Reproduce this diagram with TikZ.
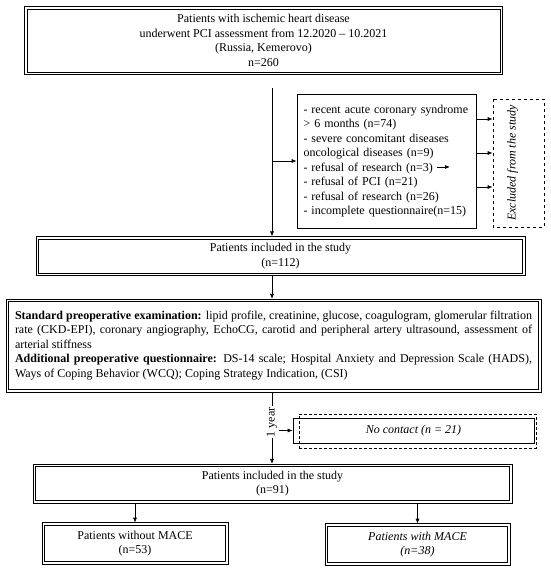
\documentclass[tikz,border=0pt]{standalone}
\usepackage{fontspec}
\setmainfont{Liberation Serif}
\usetikzlibrary{arrows.meta}

\tikzset{
  dbox/.style={draw, line width=0.7pt, align=center, inner sep=0pt,
    append after command={\pgfextra{\draw[line width=0.7pt]
      ([shift={(-2.2pt,2.2pt)}]\tikzlastnode.north west) rectangle
      ([shift={(2.2pt,-2.2pt)}]\tikzlastnode.south east);}}},
  sbox/.style={draw, line width=0.7pt, inner sep=0pt},
  dashbox/.style={draw, dashed, line width=0.7pt, inner sep=0pt},
  arr/.style={-{Latex[length=5pt,width=4pt]}, line width=0.7pt},
}

\begin{document}
\begin{tikzpicture}[x=1pt, y=-1pt, font=\fontsize{12pt}{14.5pt}\selectfont]

\useasboundingbox (0,0) rectangle (550,572);

% Top box
\node[dbox, minimum width=473, minimum height=63] (top) at (263.5,40.5)
  {Patients with ischemic heart disease\\
   underwent PCI assessment from 12.2020 -- 10.2021\\
   (Russia, Kemerovo)\\
   n=260};

% Exclusions
\node[sbox, minimum width=179, minimum height=134, text width=166, align=left] (excl) at (386.5,161)
  {\hyphenpenalty=10000
   - recent acute coronary syndrome\\
   > 6 months (n=74)\\
   \makebox[166pt][s]{- severe concomitant diseases}\\
   oncological diseases (n=9)\\
   - refusal of research (n=3)\\
   - refusal of PCI (n=21)\\
   - refusal of research (n=26)\\
   - incomplete questionnaire(n=15)};
\node[dashbox, rotate=90, minimum width=128, minimum height=51, text depth=14pt,
  font=\fontsize{12pt}{14.5pt}\selectfont\itshape] (exbox) at (518.5,163)
  {Excluded from the study};

% Included
\node[dbox, minimum width=484, minimum height=34] (inc1) at (280.5,256)
  {Patients included in the study\\(n=112)};

% Examination
\node[dbox, minimum width=530, minimum height=88, text width=517, align=justify] (std) at (273.5,345.5)
  {\hyphenpenalty=10000
   \textbf{Standard preoperative examination:} lipid profile, creatinine, glucose, coagulogram, glomerular filtration\linebreak
   rate (CKD-EPI), coronary angiography, EchoCG, carotid and peripheral artery ultrasound, assessment of\linebreak
   arterial stiffness\par
   \textbf{Additional preoperative questionnaire:} DS-14 scale; Hospital Anxiety and Depression Scale (HADS),\linebreak
   Ways of Coping Behavior (WCQ); Coping Strategy Indication, (CSI)};

% No contact
\node[sbox, minimum width=241, minimum height=25, font=\fontsize{12pt}{14.5pt}\selectfont\itshape] (nocon) at (413.5,430.5)
  {No contact (n = 21)};
\node[dashbox, densely dashed, line width=0.6pt, minimum width=237, minimum height=34] (noconframe) at (417.5,431) {};

% Included after 1 year
\node[dbox, minimum width=474, minimum height=34] (inc2) at (272.5,483.5)
  {Patients included in the study\\(n=91)};

% Outcomes
\node[dbox, minimum width=181, minimum height=36.5] (nomace) at (135,543.5)
  {Patients without MACE\\(n=53)};
\node[dbox, minimum width=180, minimum height=36.5, font=\fontsize{12pt}{14.5pt}\selectfont\itshape] (mace) at (417.5,544.5)
  {Patients with MACE\\(n=38)};

% Connectors
\coordinate (split) at (272,88);
\draw[arr] (split) -- ([yshift=2.2pt]inc1.north -| split);
\draw[arr] (excl.west -| split) -- (excl.west);
\draw[arr] (excl.east |- 0,119) -- (exbox.north |- 0,119);
\draw[arr] (excl.east |- 0,153) -- (exbox.north |- 0,153);
\draw[arr] (excl.east |- 0,187) -- (exbox.north |- 0,187);
\coordinate (n3a) at (437,167);
\coordinate (n3b) at (450,167);
\draw[arr] (n3a) -- (n3b);
\draw[arr] ([yshift=-2.2pt]inc1.south -| split) -- ([yshift=2.2pt]std.north -| split);
\draw[arr] ([yshift=-2.2pt]std.south -| split) -- node[rotate=90, fill=white, inner sep=1pt, pos=0.42] (yr) {1 year} ([yshift=2.2pt]inc2.north -| split);
\draw[arr] (nocon.west -| yr.south) -- (nocon.west);
\draw[arr] ([yshift=-2.2pt]inc2.south -| nomace) -- ([yshift=2.2pt]nomace.north);
\draw[arr] ([yshift=-2.2pt]inc2.south -| mace) -- ([yshift=2.2pt]mace.north);

\end{tikzpicture}
\end{document}
